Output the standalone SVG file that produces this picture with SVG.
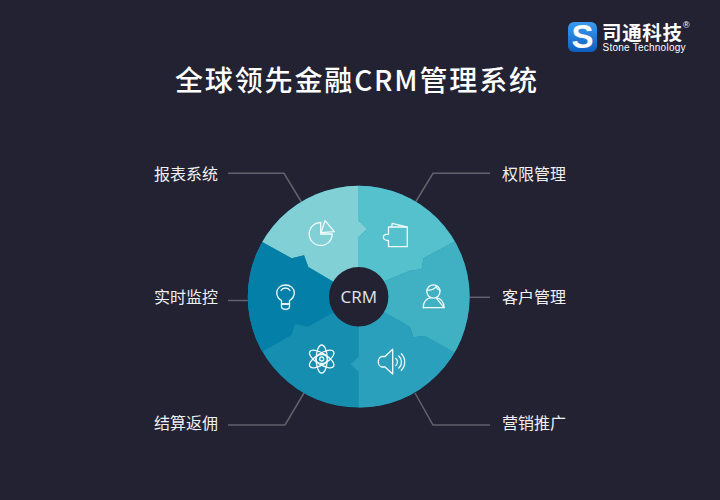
<svg xmlns="http://www.w3.org/2000/svg" width="720" height="500" viewBox="0 0 720 500">
<style>
.lbl{font-family:"Noto Sans CJK SC","Noto Sans",sans-serif;font-size:16px;fill:#f0f0f2;dominant-baseline:central}
.lead{fill:none;stroke:#62626c;stroke-width:1.5}
.ic{fill:none;stroke:#f2fbfc;stroke-width:1.3;stroke-linejoin:round;stroke-linecap:round}
</style>
<defs>
<clipPath id="disc"><circle cx="358.7" cy="296.7" r="110.9"/></clipPath>
<linearGradient id="lg" x1="0" y1="0" x2="0" y2="1"><stop offset="0" stop-color="#3a9cf0"/><stop offset="1" stop-color="#0d5fc0"/></linearGradient>
</defs>
<rect width="720" height="500" fill="#222233"/>
<g id="title"><text x="175" y="91" font-family="'Noto Sans CJK SC','Noto Sans',sans-serif" font-size="28" font-weight="500" fill="#fff" textLength="362" lengthAdjust="spacing">全球领先金融CRM管理系统</text></g>
<g id="logo">
<rect x="568" y="22" width="29" height="30" rx="6" fill="url(#lg)"/>
<text x="582.5" y="48" text-anchor="middle" font-family="'Liberation Sans',sans-serif" font-weight="700" font-size="33" fill="#fff">S</text>
<text x="602" y="39.5" font-family="'Noto Sans CJK SC',sans-serif" font-weight="700" font-size="19.5" fill="#fff" textLength="80">司通科技</text>
<text x="683" y="28" font-family="'Liberation Sans',sans-serif" font-size="9" fill="#fff">®</text>
<text x="602.5" y="51" font-family="'Liberation Sans',sans-serif" font-size="10" fill="#fff" textLength="83">Stone Technology</text>
</g>
<g id="connectors">
<path class="lead" d="M228 173.3H284L302 203"/>
<path class="lead" d="M490 173.3H433L415 203"/>
<path class="lead" d="M228 300.5H248"/>
<path class="lead" d="M470 297.3H490"/>
<path class="lead" d="M228 425H285L304 393"/>
<path class="lead" d="M490 425H433L415 393"/>
</g>
<g id="wheel" clip-path="url(#disc)">
<rect x="240" y="180" width="240" height="240" fill="#168eb0"/>
<path fill="#80d0d6" d="M358.7 296.7V237L367.3 229L358.7 220.7V170H230V224L262.7 242.3L291.7 258.3L304 255.3L308.3 267L331.7 280.7Z"/>
<path fill="#55c1cc" d="M358.7 296.7V237L367.3 229L358.7 220.7V170H490V224L453.3 242.3L423.3 258.3L421.7 269.3L410 270.7L385.7 280.7Z"/>
<path fill="#40b0c3" d="M358.7 296.7L385.7 280.7L410 270.7L421.7 269.3L423.3 258.3L453.3 242.3L490 224V370L453.3 351.7L424.3 335.7L413.3 337.3L410 326.7L385.7 313.3Z"/>
<path fill="#2ba0bc" d="M358.7 296.7L385.7 313.3L410 326.7L413.3 337.3L424.3 335.7L453.3 351.7L490 370V420H358.7V371.7L350.7 364.3L358.7 356.7Z"/>
<path fill="#0480a8" d="M358.7 296.7L331.7 280.7L308.3 267L304 255.3L291.7 258.3L262.7 242.3L230 224V370L263.3 351L291.7 335L295 324L308.3 326.7L331.7 313.3Z"/>
</g>
<g id="center"><circle cx="358.7" cy="296.7" r="29.7" fill="#222233"/><text x="358.7" y="296" text-anchor="middle" dominant-baseline="central" font-family="'Open Sans',sans-serif" font-size="17" fill="#e4e4e8">CRM</text></g>
<g id="n-report"><text class="lbl" x="154" y="173">报表系统</text>
<path class="ic" d="M320.7 222.5A11.5 11.5 0 1 0 332.2 234H320.7Z"/><path class="ic" d="M325 220.7L334.3 231.7L321 232.7Z"/></g>
<g id="n-perm"><text class="lbl" x="502" y="173">权限管理</text>
<path class="ic" d="M391 227H407.3V246.7H388.5V240.5C386.5 240.5 383.3 239.5 383.3 237.3C383.3 235 386.5 234.2 388.5 234.2V227Z"/><path class="ic" d="M391.7 227L392.2 223.3L406.7 227"/></g>
<g id="n-cust"><text class="lbl" x="502" y="296">客户管理</text>
<circle class="ic" cx="433.4" cy="291.5" r="6.6"/><path class="ic" d="M427.5 290C431 290.5 435 289 436 286.5C437 289 438.5 290 439.8 290.5"/><path class="ic" d="M423.3 307.7C423.3 301 427 298.2 431 297.6M436 297.6C441 298.5 444 301 444 307.7Z"/><path class="ic" d="M423.3 307.7H444"/></g>
<g id="n-promo"><text class="lbl" x="502" y="422">营销推广</text>
<path class="ic" d="M392.7 349.3V374L385 367H382.5C380 367 378.3 364.5 378.3 361.7C378.3 359 380 356.5 382.5 356.5H385Z"/><path class="ic" d="M395.8 358.5A4.5 4.5 0 0 1 395.8 365.5M398.8 356A8 8 0 0 1 398.8 368M401.3 353.8A11.5 11.5 0 0 1 401.3 370.2"/></g>
<g id="n-rebate"><text class="lbl" x="154" y="422">结算返佣</text>
<g class="ic"><ellipse cx="321.7" cy="359" rx="14" ry="5.5" transform="rotate(90 321.7 359)"/><ellipse cx="321.7" cy="359" rx="14" ry="5.5" transform="rotate(32 321.7 359)"/><ellipse cx="321.7" cy="359" rx="14" ry="5.5" transform="rotate(-32 321.7 359)"/><circle cx="321.7" cy="359" r="2"/><ellipse cx="321.7" cy="359" rx="6" ry="4.5"/></g></g>
<g id="n-real"><text class="lbl" x="154" y="296">实时监控</text>
<path class="ic" d="M281.5 304V300.5C279 299 276.8 296.5 276.8 293C276.8 288 280.8 285 285.5 285C290.2 285 294.3 288 294.3 293C294.3 296.5 292 299 289.5 300.5V304Z"/><path class="ic" d="M281.5 304H289.5V306.5C289.5 308.3 287.5 309.3 285.5 309.3C283.5 309.3 281.5 308.3 281.5 306.5Z"/><path class="ic" d="M281 290.5C282 288.8 283.5 288 285.5 288C287.5 288 289 288.8 290 290.5"/></g>
</svg>
